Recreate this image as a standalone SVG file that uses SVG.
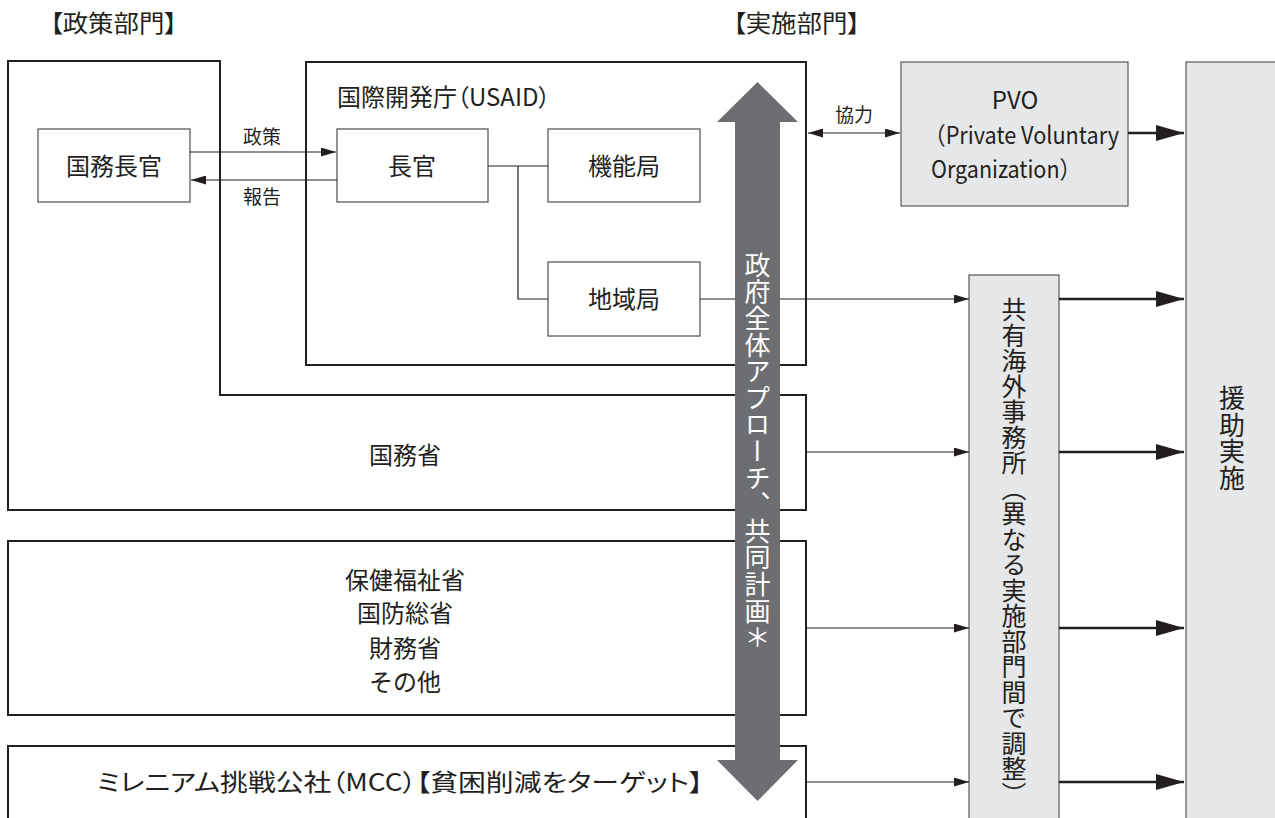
<svg xmlns="http://www.w3.org/2000/svg" width="1275" height="818" viewBox="0 0 1275 818">
<style>
text{font-family:"Noto Sans CJK JP","Noto Sans",sans-serif;fill:#231f20;}
.t24{font-size:24px;}
.t19{font-size:19px;}
.mid{text-anchor:middle;}
.palt{font-feature-settings:"palt";}
.outer{fill:#fff;stroke:#231f20;stroke-width:2;}
.inner{fill:#fff;stroke:#4d4d4f;stroke-width:1.2;}
.gray{fill:#e6e7e8;stroke:#58595b;stroke-width:1.2;}
.thin{fill:none;stroke:#231f20;stroke-width:1.2;}
.thick{fill:none;stroke:#231f20;stroke-width:2.6;}
.vt{writing-mode:vertical-rl;}
</style>
<defs>
<marker id="ah" markerUnits="userSpaceOnUse" markerWidth="15" markerHeight="9" refX="15" refY="4.5" orient="auto-start-reverse"><path d="M0,0 L15,4.5 L0,9 z" fill="#231f20"/></marker>
<marker id="ahb" markerUnits="userSpaceOnUse" markerWidth="28" markerHeight="16" refX="28" refY="8" orient="auto"><path d="M0,0 L28,8 L0,16 z" fill="#231f20"/></marker>
</defs>

<text class="palt" x="50" y="32" style="font-size:24px" textLength="127" lengthAdjust="spacingAndGlyphs">【政策部門】</text>
<text class="palt" x="733" y="32" style="font-size:24px" textLength="127" lengthAdjust="spacingAndGlyphs">【実施部門】</text>

<g id="state">
<path class="outer" d="M8,61 H220 V395 H806 V510 H8 Z"/>
<text class="t24 mid" x="405" y="464">国務省</text>
</g>
<g id="secretary">
<rect class="inner" x="38" y="129" width="152" height="73"/>
<text class="t24 mid" x="114" y="175">国務長官</text>
</g>
<g id="usaid">
<rect class="outer" x="306" y="62" width="500" height="303"/>
<text class="t24 palt" x="337" y="106">国際開発庁（USAID）</text>
</g>
<g id="administrator">
<rect class="inner" x="337" y="129" width="151" height="73"/>
<text class="t24 mid" x="412" y="175">長官</text>
</g>
<g id="functional">
<rect class="inner" x="548" y="129" width="152" height="73"/>
<text class="t24 mid" x="624" y="175">機能局</text>
</g>
<g id="regional">
<rect class="inner" x="548" y="262" width="152" height="74"/>
<text class="t24 mid" x="624" y="308">地域局</text>
</g>
<g id="others">
<rect class="outer" x="8" y="541" width="798" height="174"/>
<text class="t24 mid" x="405" y="589">保健福祉省</text>
<text class="t24 mid" x="405" y="622">国防総省</text>
<text class="t24 mid" x="405" y="657">財務省</text>
<text class="t24 mid" x="405" y="691">その他</text>
</g>
<g id="mcc">
<rect class="outer" x="8" y="746" width="798" height="90"/>
<text class="t24 palt" x="97" y="791" textLength="606" lengthAdjust="spacingAndGlyphs">ミレニアム挑戦公社（MCC）【貧困削減をターゲット】</text>
</g>
<g id="pvo">
<rect class="gray" x="901" y="62" width="227" height="144"/>
<text class="t24 mid" x="1015" y="109">PVO</text>
<text class="t24" x="924" y="144" textLength="195" lengthAdjust="spacingAndGlyphs">（Private Voluntary</text>
<text class="t24" x="931" y="178" textLength="150" lengthAdjust="spacingAndGlyphs">Organization）</text>
</g>
<g id="shared-office">
<rect class="gray" x="969" y="275" width="90" height="560"/>
<text class="vt" x="1014" y="297" style="font-size:25px;letter-spacing:0.5px">共有海外事務所（異なる実施部門間で調整）</text>
</g>
<g id="implementation">
<rect class="gray" x="1186" y="62" width="100" height="770"/>
<text class="vt" x="1232" y="385" style="font-size:26px;letter-spacing:0.7px">援助実施</text>
</g>

<g id="connectors">
<line class="thin" x1="190" y1="152" x2="336" y2="152" marker-end="url(#ah)"/>
<line class="thin" x1="337" y1="180" x2="191" y2="180" marker-end="url(#ah)"/>
<text class="t19 mid" x="262" y="144">政策</text>
<text class="t19 mid" x="262" y="204">報告</text>
<line class="thin" x1="488" y1="166" x2="548" y2="166"/>
<polyline class="thin" points="518,166 518,299 548,299"/>
<line class="thin" x1="700" y1="299" x2="969" y2="299" marker-end="url(#ah)"/>
<line class="thin" x1="806" y1="452" x2="969" y2="452" marker-end="url(#ah)"/>
<line class="thin" x1="806" y1="628" x2="969" y2="628" marker-end="url(#ah)"/>
<line class="thin" x1="806" y1="782" x2="969" y2="782" marker-end="url(#ah)"/>
<line class="thin" x1="808" y1="133" x2="900" y2="133" marker-start="url(#ah)" marker-end="url(#ah)"/>
<text class="t19 mid" x="854" y="122">協力</text>
<line class="thick" x1="1128" y1="133" x2="1184" y2="133" marker-end="url(#ahb)"/>
<line class="thick" x1="1059" y1="299" x2="1184" y2="299" marker-end="url(#ahb)"/>
<line class="thick" x1="1059" y1="452" x2="1184" y2="452" marker-end="url(#ahb)"/>
<line class="thick" x1="1059" y1="628" x2="1184" y2="628" marker-end="url(#ahb)"/>
<line class="thick" x1="1059" y1="782" x2="1184" y2="782" marker-end="url(#ahb)"/>
</g>

<g id="whole-of-government">
<path d="M757.5,82 L798,122 L780,122 L780,760 L798,760 L757.5,801 L717,760 L735,760 L735,122 L717,122 Z" fill="#6d6e71"/>
<text class="vt" x="757.5" y="252" style="font-size:26px;letter-spacing:0.6px;fill:#fff">政府全体アプローチ、共同計画＊</text>
</g>
</svg>
